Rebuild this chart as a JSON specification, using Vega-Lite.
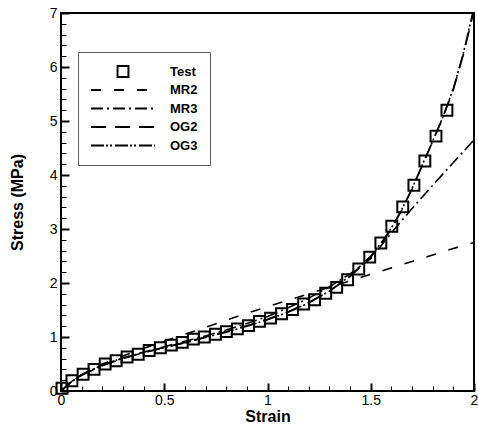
{
  "$schema": "https://vega.github.io/schema/vega-lite/v6.json",
  "width": 413,
  "height": 378,
  "autosize": {"type": "none"},
  "padding": {"left": 61, "top": 13, "right": 4, "bottom": 34},
  "background": "white",
  "datasets": {
    "test": [
      {"series": "Test", "strain": 0.005, "stress": 0.05},
      {"series": "Test", "strain": 0.053, "stress": 0.19},
      {"series": "Test", "strain": 0.107, "stress": 0.31},
      {"series": "Test", "strain": 0.160, "stress": 0.40},
      {"series": "Test", "strain": 0.214, "stress": 0.50},
      {"series": "Test", "strain": 0.267, "stress": 0.56},
      {"series": "Test", "strain": 0.320, "stress": 0.63},
      {"series": "Test", "strain": 0.374, "stress": 0.68},
      {"series": "Test", "strain": 0.427, "stress": 0.75},
      {"series": "Test", "strain": 0.481, "stress": 0.80},
      {"series": "Test", "strain": 0.534, "stress": 0.85},
      {"series": "Test", "strain": 0.587, "stress": 0.90},
      {"series": "Test", "strain": 0.641, "stress": 0.96},
      {"series": "Test", "strain": 0.694, "stress": 1.00},
      {"series": "Test", "strain": 0.748, "stress": 1.05},
      {"series": "Test", "strain": 0.801, "stress": 1.10},
      {"series": "Test", "strain": 0.854, "stress": 1.15},
      {"series": "Test", "strain": 0.908, "stress": 1.21},
      {"series": "Test", "strain": 0.961, "stress": 1.29},
      {"series": "Test", "strain": 1.015, "stress": 1.35},
      {"series": "Test", "strain": 1.068, "stress": 1.43},
      {"series": "Test", "strain": 1.121, "stress": 1.51},
      {"series": "Test", "strain": 1.175, "stress": 1.61},
      {"series": "Test", "strain": 1.228, "stress": 1.69},
      {"series": "Test", "strain": 1.282, "stress": 1.81},
      {"series": "Test", "strain": 1.335, "stress": 1.92},
      {"series": "Test", "strain": 1.388, "stress": 2.06},
      {"series": "Test", "strain": 1.442, "stress": 2.26},
      {"series": "Test", "strain": 1.495, "stress": 2.48},
      {"series": "Test", "strain": 1.549, "stress": 2.74},
      {"series": "Test", "strain": 1.602, "stress": 3.05},
      {"series": "Test", "strain": 1.655, "stress": 3.41},
      {"series": "Test", "strain": 1.709, "stress": 3.81},
      {"series": "Test", "strain": 1.762, "stress": 4.26},
      {"series": "Test", "strain": 1.816, "stress": 4.72},
      {"series": "Test", "strain": 1.869, "stress": 5.20}
    ],
    "models": [
      {"series": "MR2", "strain": 0.0, "stress": 0.0},
      {"series": "MR2", "strain": 0.05, "stress": 0.17},
      {"series": "MR2", "strain": 0.1, "stress": 0.3},
      {"series": "MR2", "strain": 0.2, "stress": 0.5},
      {"series": "MR2", "strain": 0.3, "stress": 0.65},
      {"series": "MR2", "strain": 0.4, "stress": 0.79},
      {"series": "MR2", "strain": 0.5, "stress": 0.92},
      {"series": "MR2", "strain": 0.6, "stress": 1.05},
      {"series": "MR2", "strain": 0.7, "stress": 1.18},
      {"series": "MR2", "strain": 0.8, "stress": 1.31},
      {"series": "MR2", "strain": 0.9, "stress": 1.44},
      {"series": "MR2", "strain": 1.0, "stress": 1.56},
      {"series": "MR2", "strain": 1.1, "stress": 1.68},
      {"series": "MR2", "strain": 1.2, "stress": 1.80},
      {"series": "MR2", "strain": 1.3, "stress": 1.92},
      {"series": "MR2", "strain": 1.4, "stress": 2.04},
      {"series": "MR2", "strain": 1.5, "stress": 2.16},
      {"series": "MR2", "strain": 1.6, "stress": 2.28},
      {"series": "MR2", "strain": 1.7, "stress": 2.40},
      {"series": "MR2", "strain": 1.8, "stress": 2.52},
      {"series": "MR2", "strain": 1.9, "stress": 2.64},
      {"series": "MR2", "strain": 2.0, "stress": 2.75},
      {"series": "MR3", "strain": 0.0, "stress": 0.0},
      {"series": "MR3", "strain": 0.05, "stress": 0.17},
      {"series": "MR3", "strain": 0.1, "stress": 0.3},
      {"series": "MR3", "strain": 0.2, "stress": 0.48},
      {"series": "MR3", "strain": 0.3, "stress": 0.61},
      {"series": "MR3", "strain": 0.4, "stress": 0.72},
      {"series": "MR3", "strain": 0.5, "stress": 0.82},
      {"series": "MR3", "strain": 0.6, "stress": 0.92},
      {"series": "MR3", "strain": 0.7, "stress": 1.02},
      {"series": "MR3", "strain": 0.8, "stress": 1.13},
      {"series": "MR3", "strain": 0.9, "stress": 1.25},
      {"series": "MR3", "strain": 1.0, "stress": 1.38},
      {"series": "MR3", "strain": 1.1, "stress": 1.54},
      {"series": "MR3", "strain": 1.2, "stress": 1.72},
      {"series": "MR3", "strain": 1.3, "stress": 1.93},
      {"series": "MR3", "strain": 1.4, "stress": 2.17},
      {"series": "MR3", "strain": 1.5, "stress": 2.45},
      {"series": "MR3", "strain": 1.6, "stress": 2.93},
      {"series": "MR3", "strain": 1.7, "stress": 3.38},
      {"series": "MR3", "strain": 1.8, "stress": 3.81},
      {"series": "MR3", "strain": 1.9, "stress": 4.23},
      {"series": "MR3", "strain": 2.0, "stress": 4.65},
      {"series": "OG2", "strain": 0.0, "stress": 0.0},
      {"series": "OG2", "strain": 0.05, "stress": 0.17},
      {"series": "OG2", "strain": 0.1, "stress": 0.29},
      {"series": "OG2", "strain": 0.2, "stress": 0.47},
      {"series": "OG2", "strain": 0.3, "stress": 0.6},
      {"series": "OG2", "strain": 0.4, "stress": 0.71},
      {"series": "OG2", "strain": 0.5, "stress": 0.81},
      {"series": "OG2", "strain": 0.6, "stress": 0.9},
      {"series": "OG2", "strain": 0.7, "stress": 1.0},
      {"series": "OG2", "strain": 0.8, "stress": 1.1},
      {"series": "OG2", "strain": 0.9, "stress": 1.21},
      {"series": "OG2", "strain": 1.0, "stress": 1.33},
      {"series": "OG2", "strain": 1.1, "stress": 1.47},
      {"series": "OG2", "strain": 1.2, "stress": 1.64},
      {"series": "OG2", "strain": 1.3, "stress": 1.85},
      {"series": "OG2", "strain": 1.4, "stress": 2.12},
      {"series": "OG2", "strain": 1.5, "stress": 2.48},
      {"series": "OG2", "strain": 1.55, "stress": 2.72},
      {"series": "OG2", "strain": 1.6, "stress": 3.0},
      {"series": "OG2", "strain": 1.65, "stress": 3.35},
      {"series": "OG2", "strain": 1.7, "stress": 3.74},
      {"series": "OG2", "strain": 1.75, "stress": 4.18},
      {"series": "OG2", "strain": 1.8, "stress": 4.62},
      {"series": "OG2", "strain": 1.85, "stress": 5.07},
      {"series": "OG2", "strain": 1.9, "stress": 5.58},
      {"series": "OG2", "strain": 1.95, "stress": 6.25},
      {"series": "OG2", "strain": 2.0, "stress": 7.05},
      {"series": "OG3", "strain": 0.0, "stress": 0.0},
      {"series": "OG3", "strain": 0.05, "stress": 0.17},
      {"series": "OG3", "strain": 0.1, "stress": 0.3},
      {"series": "OG3", "strain": 0.2, "stress": 0.48},
      {"series": "OG3", "strain": 0.3, "stress": 0.61},
      {"series": "OG3", "strain": 0.4, "stress": 0.71},
      {"series": "OG3", "strain": 0.5, "stress": 0.8},
      {"series": "OG3", "strain": 0.6, "stress": 0.89},
      {"series": "OG3", "strain": 0.7, "stress": 0.99},
      {"series": "OG3", "strain": 0.8, "stress": 1.09},
      {"series": "OG3", "strain": 0.9, "stress": 1.2},
      {"series": "OG3", "strain": 1.0, "stress": 1.32},
      {"series": "OG3", "strain": 1.1, "stress": 1.46},
      {"series": "OG3", "strain": 1.2, "stress": 1.63},
      {"series": "OG3", "strain": 1.3, "stress": 1.85},
      {"series": "OG3", "strain": 1.4, "stress": 2.13},
      {"series": "OG3", "strain": 1.5, "stress": 2.5},
      {"series": "OG3", "strain": 1.55, "stress": 2.74},
      {"series": "OG3", "strain": 1.6, "stress": 3.02},
      {"series": "OG3", "strain": 1.65, "stress": 3.36},
      {"series": "OG3", "strain": 1.7, "stress": 3.75},
      {"series": "OG3", "strain": 1.75, "stress": 4.19},
      {"series": "OG3", "strain": 1.8, "stress": 4.63},
      {"series": "OG3", "strain": 1.85, "stress": 5.08},
      {"series": "OG3", "strain": 1.9, "stress": 5.6},
      {"series": "OG3", "strain": 1.95, "stress": 6.28},
      {"series": "OG3", "strain": 2.0, "stress": 7.1}
    ]
  },
  "encoding": {
    "x": {
      "field": "strain", "type": "quantitative",
      "scale": {"domain": [0, 2], "nice": false, "zero": false},
      "axis": {
        "title": "Strain",
        "values": [0,0.1,0.2,0.3,0.4,0.5,0.6,0.7,0.8,0.9,1,1.1,1.2,1.3,1.4,1.5,1.6,1.7,1.8,1.9,2],
        "labelExpr": "abs(datum.value*2 - round(datum.value*2)) < 1e-6 ? '' + datum.value : ''",
        "tickSize": {"condition": {"test": "abs(datum.value*2 - round(datum.value*2)) < 1e-6", "value": -8}, "value": -5},
        "tickWidth": {"condition": {"test": "abs(datum.value*2 - round(datum.value*2)) < 1e-6", "value": 2}, "value": 1},
        "labelPadding": 10,
        "titlePadding": -2
      }
    },
    "y": {
      "field": "stress", "type": "quantitative",
      "scale": {"domain": [0, 7], "nice": false},
      "axis": {
        "title": "Stress (MPa)",
        "values": [0,0.2,0.4,0.6,0.8,1,1.2,1.4,1.6,1.8,2,2.2,2.4,2.6,2.8,3,3.2,3.4,3.6,3.8,4,4.2,4.4,4.6,4.8,5,5.2,5.4,5.6,5.8,6,6.2,6.4,6.6,6.8,7],
        "labelExpr": "abs(datum.value - round(datum.value)) < 1e-6 ? '' + datum.value : ''",
        "tickSize": {"condition": {"test": "abs(datum.value - round(datum.value)) < 1e-6", "value": -8}, "value": -5},
        "tickWidth": {"condition": {"test": "abs(datum.value - round(datum.value)) < 1e-6", "value": 2}, "value": 1},
        "labelPadding": 12,
        "titlePadding": 24
      }
    }
  },
  "layer": [
    {
      "data": {"name": "models"},
      "mark": {"type": "line", "color": "black", "strokeWidth": 1.6, "clip": true},
      "encoding": {
        "strokeDash": {
          "field": "series", "type": "nominal",
          "scale": {"domain": ["Test", "MR2", "MR3", "OG2", "OG3"], "range": [[1, 0], [10, 13], [12, 4, 2, 4], [15, 9], [13, 2, 2, 2, 2, 3]]},
          "legend": {"title": null}
        }
      }
    },
    {
      "data": {"name": "test"},
      "mark": {"type": "point", "filled": false, "color": "black", "strokeWidth": 2, "size": 4096, "opacity": 1},
      "encoding": {
        "shape": {
          "field": "series", "type": "nominal",
          "scale": {"domain": ["Test", "MR2", "MR3", "OG2", "OG3"], "range": ["M-0.17,-0.17L0.17,-0.17L0.17,0.17L-0.17,0.17Z", "M-1,0L1,0", "M-1,0L1,0", "M-1,0L1,0", "M-1,0L1,0"]},
          "legend": {"title": null}
        }
      }
    }
  ],
  "config": {
    "font": "Liberation Sans",
    "view": {"stroke": "black", "strokeWidth": 2},
    "axis": {
      "grid": false, "domain": false, "tickColor": "black",
      "labelColor": "black", "titleColor": "black",
      "labelFont": "Liberation Sans", "titleFont": "Liberation Sans",
      "labelFontSize": 14, "titleFontSize": 16, "titleFontWeight": "bold",
      "labelFlush": false, "labelOverlap": false, "labelBound": false
    },
    "legend": {
      "orient": "none", "legendX": 17, "legendY": 39,
      "padding": 12, "strokeColor": "#606060", "fillColor": "white",
      "labelFont": "Liberation Sans", "labelFontSize": 13, "labelFontWeight": "bold", "labelColor": "black",
      "labelOffset": 14, "symbolSize": 4096, "symbolStrokeWidth": 2,
      "symbolStrokeColor": "black", "symbolFillColor": "transparent",
      "clipHeight": 15, "rowPadding": 3.5
    }
  }
}
